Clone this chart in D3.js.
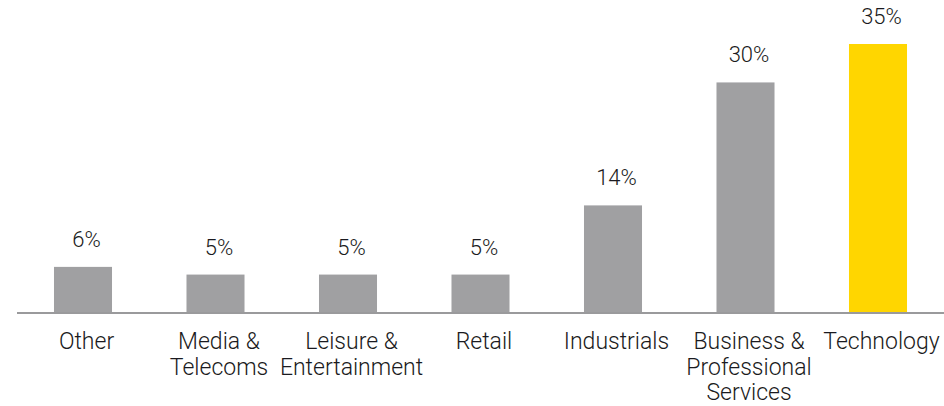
<!DOCTYPE html>
<html>
<head>
<meta charset="utf-8">
<script src="https://cdn.jsdelivr.net/npm/d3@7"></script>
<style>
  html, body { margin: 0; padding: 0; background: #fff; }
  svg { display: block; }
  text { font-family: Roboto, "Open Sans", sans-serif; font-weight: 300; fill: #1a1a20; }
</style>
</head>
<body>
<svg id="chart" width="944" height="406"></svg>
<script>
// Share of deals by sector (%)
const categories = [
  ["Other"],
  ["Media &", "Telecoms"],
  ["Leisure &", "Entertainment"],
  ["Retail"],
  ["Industrials"],
  ["Business &", "Professional", "Services"],
  ["Technology"]
];
const values = [6, 5, 5, 5, 14, 30, 35];
const highlight = [false, false, false, false, false, false, true];

const W = 944, H = 406;
const baseY = 313;
const textShift = 3.5;

const svg = d3.select("#chart");
const keys = categories.map((c, i) => i);

const x = d3.scaleBand()
  .domain(keys)
  .range([16.75, 944.25])
  .paddingInner(0.562)
  .paddingOuter(0.281);

const y = d3.scaleLinear()
  .domain([0, 35])
  .range([baseY, 44]);

// bars
svg.selectAll("rect.bar")
  .data(values)
  .join("rect")
  .attr("class", "bar")
  .attr("x", (d, i) => x(i))
  .attr("width", x.bandwidth())
  .attr("y", d => y(d))
  .attr("height", d => y(0) - y(d))
  .attr("fill", (d, i) => highlight[i] ? "#ffd600" : "#a0a0a2");

// value labels
svg.selectAll("text.val")
  .data(values)
  .join("text")
  .attr("class", "val")
  .attr("x", (d, i) => x(i) + x.bandwidth() / 2 + textShift)
  .attr("y", d => y(d) - 20)
  .attr("text-anchor", "middle")
  .attr("font-size", 22)
  .text(d => d + "%");

// baseline axis with multi-line category labels
const axis = d3.axisBottom(x).tickSize(0).tickPadding(0).tickFormat("");
const ax = svg.append("g")
  .attr("transform", `translate(0,${baseY})`)
  .call(axis);
ax.select(".domain")
  .attr("d", `M17,0H944`)
  .attr("stroke", "#9a9a9c")
  .attr("stroke-width", 2);

ax.selectAll(".tick").each(function (k) {
  const t = d3.select(this).append("text")
    .attr("text-anchor", "middle")
    .attr("font-size", 23)
    .attr("y", 36);
  categories[k].forEach((line, j) => {
    t.append("tspan")
      .attr("x", textShift)
      .attr("dy", j === 0 ? 0 : 25.5)
      .text(line);
  });
});
</script>
</body>
</html>
